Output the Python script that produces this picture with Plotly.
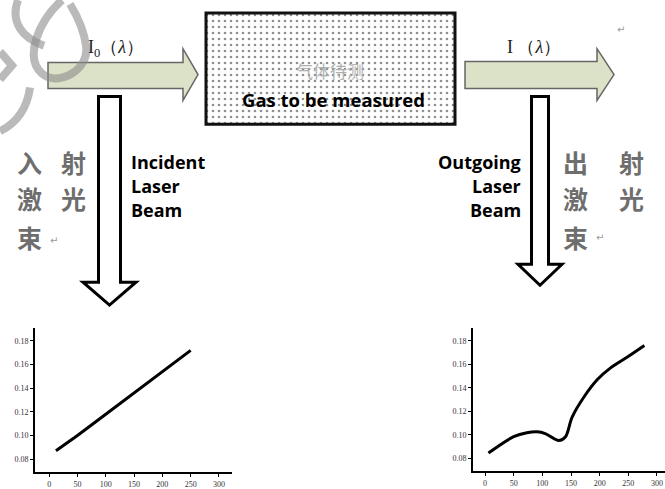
import plotly.graph_objects as go

# ---- data for the two small charts ----
incident_x = [12, 50, 100, 150, 200, 250]
incident_y = [0.087, 0.100, 0.118, 0.136, 0.154, 0.172]

outgoing_x = [6, 50, 73, 91, 105, 129, 140, 152, 172, 196, 219, 249, 278]
outgoing_y = [0.0844, 0.0983, 0.1017, 0.1025, 0.101, 0.095, 0.098, 0.115, 0.1317, 0.147, 0.157, 0.1664, 0.176]

y_ticks = [0.08, 0.10, 0.12, 0.14, 0.16, 0.18]
x_ticks = [0, 50, 100, 150, 200, 250, 300]

W, H = 665, 489
fig = go.Figure()

# small charts
fig.add_trace(go.Scatter(x=incident_x, y=incident_y, mode="lines",
                         line=dict(color="black", width=3), xaxis="x", yaxis="y",
                         showlegend=False, hoverinfo="skip"))
fig.add_trace(go.Scatter(x=outgoing_x, y=outgoing_y, mode="lines",
                         line=dict(color="black", width=3, shape="spline", smoothing=1.0),
                         xaxis="x2", yaxis="y2", showlegend=False, hoverinfo="skip"))

# dotted gas box (pixel overlay axes)
bx0, by0, bx1, by1 = 206, 13, 455, 125
fig.add_trace(go.Scatter(x=[bx0, bx1, bx1, bx0, bx0], y=[by0, by0, by1, by1, by0],
                         mode="lines", fill="toself", line=dict(width=0),
                         fillcolor="white",
                         fillpattern=dict(shape=".", size=6, solidity=0.16,
                                          fgcolor="#222", bgcolor="white"),
                         xaxis="x3", yaxis="y3", showlegend=False, hoverinfo="skip"))

shapes = []
# gas box border
shapes.append(dict(type="rect", xref="x3", yref="y3", x0=bx0, y0=by0, x1=bx1, y1=by1,
                   line=dict(color="#111", width=3), fillcolor="rgba(0,0,0,0)"))
# horizontal arrows
green = "#dce2c8"
shapes.append(dict(type="path", xref="x3", yref="y3",
                   path="M 48,63 L 183,63 L 183,49 L 198,75 L 183,101 L 183,89 L 48,89 Z",
                   fillcolor=green, line=dict(color="#666", width=1.5)))
shapes.append(dict(type="path", xref="x3", yref="y3",
                   path="M 465,62 L 597,62 L 597,49 L 614,75 L 597,101 L 597,89 L 465,89 Z",
                   fillcolor=green, line=dict(color="#666", width=1.5)))
# down arrows
shapes.append(dict(type="path", xref="x3", yref="y3",
                   path="M 98.5,97 L 120.5,97 L 120.5,284 L 136,284 L 109.5,307 L 83,284 L 98.5,284 Z",
                   fillcolor="white", line=dict(color="black", width=3)))
shapes.append(dict(type="path", xref="x3", yref="y3",
                   path="M 531.5,97 L 548.5,97 L 548.5,266 L 562,266 L 540,287 L 518,266 L 531.5,266 Z",
                   fillcolor="white", line=dict(color="black", width=3)))
# watermark strokes
wm = dict(color="rgba(140,140,140,0.6)", width=8)
for p in ["M 62,0 C 38,22 24,58 42,74 C 58,88 90,70 86,46 C 84,30 76,14 70,4",
          "M 18,0 C 10,22 22,38 44,46",
          "M 0,52 L 12,66 L 0,80",
          "M 30,88 C 27,110 16,124 0,132"]:
    shapes.append(dict(type="path", xref="x3", yref="y3", path=p, line=wm,
                       fillcolor="rgba(0,0,0,0)"))

ann = []
def txt(x, y, s, size, color="black", family="Open Sans", xanchor="center"):
    ann.append(dict(x=x, y=y, xref="x3", yref="y3", text=s, showarrow=False,
                    font=dict(size=size, color=color, family=family), xanchor=xanchor,
                    yanchor="middle"))

txt(116, 49, "I<sub>0</sub>（<i>λ</i>）", 18, "#222", "Liberation Serif")
txt(534, 47, "I （<i>λ</i>）", 18, "#222", "Liberation Serif")
txt(330, 71, "气体待测", 17, "#b0b0b0", "Noto Sans CJK SC")
txt(333, 100, "<b>Gas to be measured</b>", 18.5, "black", "Open Sans")
txt(621, 30, "↵", 10, "#999", "DejaVu Sans")

for s, y in [("Incident", 163), ("Laser", 187), ("Beam", 211)]:
    txt(129, y, "<b>" + s + "</b>", 18, "black", "Open Sans", "left")
for s, y in [("Outgoing", 163), ("Laser", 187), ("Beam", 211)]:
    txt(523, y, "<b>" + s + "</b>", 18, "black", "Open Sans", "right")

grey = "#6e6e6e"
cjk = "Noto Sans CJK SC"
for s, x, y in [("入", 29, 163), ("射", 73, 163), ("激", 29, 199), ("光", 73, 199), ("束", 29, 238),
                ("出", 575, 163), ("射", 631, 163), ("激", 575, 199), ("光", 631, 199), ("束", 575, 238)]:
    txt(x, y, "<b>" + s + "</b>", 25, grey, cjk)
txt(48, 242, "↵", 10, "#999", "DejaVu Sans", "left")
txt(594, 239, "↵", 10, "#999", "DejaVu Sans", "left")

tickfont = dict(family="Liberation Serif", size=8, color="#333")
def xax(domain, rng):
    return dict(domain=domain, range=rng, tickvals=x_ticks, showline=True, linecolor="black",
                linewidth=2, ticks="outside", ticklen=3, tickcolor="black", tickwidth=1,
                showgrid=False, zeroline=False, tickfont=tickfont, fixedrange=True)
def yax(domain, rng, anchor):
    return dict(domain=domain, range=rng, tickvals=y_ticks, tickformat=".2f", showline=True,
                linecolor="black", linewidth=2, ticks="outside", ticklen=3, tickcolor="black",
                tickwidth=1, showgrid=False, zeroline=False, tickfont=tickfont, anchor=anchor,
                fixedrange=True)

fig.update_layout(
    width=W, height=H, margin=dict(l=0, r=0, t=0, b=0),
    paper_bgcolor="white", plot_bgcolor="rgba(0,0,0,0)",
    xaxis=dict(**xax([35 / W, 232 / W], [-25, 323]), anchor="y"),
    yaxis=yax([1 - 475 / H, 1 - 330 / H], [0.069, 0.191], "x"),
    xaxis2=dict(**xax([473 / W, 1.0], [-21, 314]), anchor="y2"),
    yaxis2=yax([1 - 474 / H, 1 - 330 / H], [0.069, 0.191], "x2"),
    xaxis3=dict(domain=[0, 1], range=[0, W], visible=False, anchor="y3", fixedrange=True),
    yaxis3=dict(domain=[0, 1], range=[H, 0], visible=False, anchor="x3", fixedrange=True),
    shapes=shapes, annotations=ann, showlegend=False,
)

fig.write_html("out.html", config={"displayModeBar": False},
               post_script="document.body.style.margin='0';document.body.style.overflow='hidden';")
